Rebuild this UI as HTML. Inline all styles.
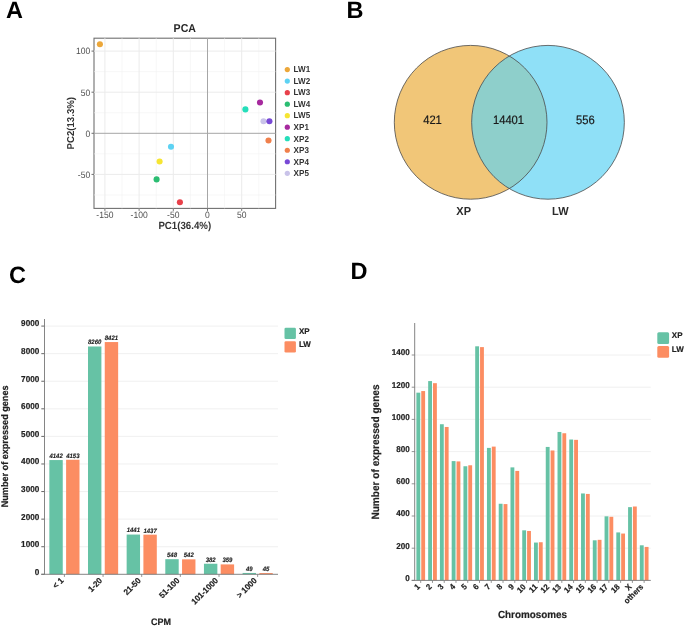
<!DOCTYPE html>
<html><head><meta charset="utf-8"><title>Figure</title><style>
html,body{margin:0;padding:0;background:#fff;}
body{width:685px;height:626px;overflow:hidden;}
.k{stroke:#222;stroke-width:0.18px;}
.ki{stroke:#222;stroke-width:0.12px;}
.kv{stroke:#1a1a1a;stroke-width:0.2px;}
svg{display:block;font-family:"Liberation Sans", sans-serif;will-change:transform;text-rendering:geometricPrecision;}
</style></head><body>
<svg width="685" height="626" viewBox="0 0 685 626">
<rect x="0" y="0" width="685" height="626" fill="#fff"/>
<text transform="translate(6.00,18.00)" font-size="23.5" fill="#000" font-weight="bold">A</text>
<text transform="translate(346.40,18.00)" font-size="23.5" fill="#000" font-weight="bold">B</text>
<text transform="translate(9.00,283.00)" font-size="23.5" fill="#000" font-weight="bold">C</text>
<text transform="translate(350.50,278.80)" font-size="23.5" fill="#000" font-weight="bold">D</text>
<rect x="94.0" y="38.2" width="181.60" height="170.20" fill="none" stroke="#707070" stroke-width="1.1"/>
<line x1="122.00" y1="38.2" x2="122.00" y2="208.4" stroke="#f2f2f2" stroke-width="0.6"/>
<line x1="156.20" y1="38.2" x2="156.20" y2="208.4" stroke="#f2f2f2" stroke-width="0.6"/>
<line x1="190.40" y1="38.2" x2="190.40" y2="208.4" stroke="#f2f2f2" stroke-width="0.6"/>
<line x1="224.60" y1="38.2" x2="224.60" y2="208.4" stroke="#f2f2f2" stroke-width="0.6"/>
<line x1="258.80" y1="38.2" x2="258.80" y2="208.4" stroke="#f2f2f2" stroke-width="0.6"/>
<line x1="94.0" y1="71.65" x2="275.6" y2="71.65" stroke="#f2f2f2" stroke-width="0.6"/>
<line x1="94.0" y1="112.75" x2="275.6" y2="112.75" stroke="#f2f2f2" stroke-width="0.6"/>
<line x1="94.0" y1="153.85" x2="275.6" y2="153.85" stroke="#f2f2f2" stroke-width="0.6"/>
<line x1="94.0" y1="194.95" x2="275.6" y2="194.95" stroke="#f2f2f2" stroke-width="0.6"/>
<line x1="104.90" y1="38.2" x2="104.90" y2="208.4" stroke="#ebebeb" stroke-width="1"/>
<line x1="139.10" y1="38.2" x2="139.10" y2="208.4" stroke="#ebebeb" stroke-width="1"/>
<line x1="173.30" y1="38.2" x2="173.30" y2="208.4" stroke="#ebebeb" stroke-width="1"/>
<line x1="241.70" y1="38.2" x2="241.70" y2="208.4" stroke="#ebebeb" stroke-width="1"/>
<line x1="94.0" y1="51.10" x2="275.6" y2="51.10" stroke="#ebebeb" stroke-width="1"/>
<line x1="94.0" y1="92.20" x2="275.6" y2="92.20" stroke="#ebebeb" stroke-width="1"/>
<line x1="94.0" y1="174.40" x2="275.6" y2="174.40" stroke="#ebebeb" stroke-width="1"/>
<line x1="207.50" y1="38.2" x2="207.50" y2="208.4" stroke="#a6a6a6" stroke-width="1"/>
<line x1="94.0" y1="133.30" x2="275.6" y2="133.30" stroke="#a6a6a6" stroke-width="1"/>
<line x1="104.90" y1="208.4" x2="104.90" y2="210.9" stroke="#707070" stroke-width="1"/>
<text transform="translate(104.90,217.90) scale(0.93,1.0)" font-size="9.2" fill="#4d4d4d" text-anchor="middle">-150</text>
<line x1="139.10" y1="208.4" x2="139.10" y2="210.9" stroke="#707070" stroke-width="1"/>
<text transform="translate(139.10,217.90) scale(0.93,1.0)" font-size="9.2" fill="#4d4d4d" text-anchor="middle">-100</text>
<line x1="173.30" y1="208.4" x2="173.30" y2="210.9" stroke="#707070" stroke-width="1"/>
<text transform="translate(173.30,217.90) scale(0.93,1.0)" font-size="9.2" fill="#4d4d4d" text-anchor="middle">-50</text>
<line x1="207.50" y1="208.4" x2="207.50" y2="210.9" stroke="#707070" stroke-width="1"/>
<text transform="translate(207.50,217.90) scale(0.93,1.0)" font-size="9.2" fill="#4d4d4d" text-anchor="middle">0</text>
<line x1="241.70" y1="208.4" x2="241.70" y2="210.9" stroke="#707070" stroke-width="1"/>
<text transform="translate(241.70,217.90) scale(0.93,1.0)" font-size="9.2" fill="#4d4d4d" text-anchor="middle">50</text>
<line x1="91.5" y1="51.10" x2="94.0" y2="51.10" stroke="#707070" stroke-width="1"/>
<text transform="translate(90.20,54.40) scale(0.93,1.0)" font-size="9.2" fill="#4d4d4d" text-anchor="end">100</text>
<line x1="91.5" y1="92.20" x2="94.0" y2="92.20" stroke="#707070" stroke-width="1"/>
<text transform="translate(90.20,95.50) scale(0.93,1.0)" font-size="9.2" fill="#4d4d4d" text-anchor="end">50</text>
<line x1="91.5" y1="133.30" x2="94.0" y2="133.30" stroke="#707070" stroke-width="1"/>
<text transform="translate(90.20,136.60) scale(0.93,1.0)" font-size="9.2" fill="#4d4d4d" text-anchor="end">0</text>
<line x1="91.5" y1="174.40" x2="94.0" y2="174.40" stroke="#707070" stroke-width="1"/>
<text transform="translate(90.20,177.70) scale(0.93,1.0)" font-size="9.2" fill="#4d4d4d" text-anchor="end">-50</text>
<text transform="translate(184.80,31.60) scale(1.0,1.08)" font-size="10.6" fill="#262626" text-anchor="middle" font-weight="bold">PCA</text>
<text transform="translate(184.80,228.60) scale(1.0,1.08)" font-size="9.7" fill="#333" text-anchor="middle" font-weight="bold">PC1(36.4%)</text>
<text transform="translate(73.70,123.20) rotate(-90) scale(1.0,1.04)" font-size="9.65" fill="#333" text-anchor="middle" font-weight="bold">PC2(13.3%)</text>
<circle cx="99.9" cy="44.3" r="3.05" fill="#eca73a"/>
<circle cx="171.0" cy="146.8" r="3.05" fill="#5dd2f3"/>
<circle cx="179.9" cy="202.2" r="3.05" fill="#e8404a"/>
<circle cx="156.6" cy="179.4" r="3.05" fill="#2bbd72"/>
<circle cx="159.6" cy="161.5" r="3.05" fill="#f6e532"/>
<circle cx="245.4" cy="109.4" r="3.05" fill="#25deba"/>
<circle cx="260.0" cy="102.5" r="3.05" fill="#a6299e"/>
<circle cx="268.5" cy="140.5" r="3.05" fill="#f0804c"/>
<circle cx="263.5" cy="121.3" r="3.05" fill="#c9c3e9"/>
<circle cx="269.4" cy="121.3" r="3.05" fill="#7849d6"/>
<circle cx="287.3" cy="69.60" r="2.6" fill="#eca73a"/>
<text transform="translate(293.60,72.40) scale(1.0,1.06)" font-size="8.1" fill="#333" font-weight="bold">LW1</text>
<circle cx="287.3" cy="81.12" r="2.6" fill="#5dd2f3"/>
<text transform="translate(293.60,83.92) scale(1.0,1.06)" font-size="8.1" fill="#333" font-weight="bold">LW2</text>
<circle cx="287.3" cy="92.64" r="2.6" fill="#e8404a"/>
<text transform="translate(293.60,95.44) scale(1.0,1.06)" font-size="8.1" fill="#333" font-weight="bold">LW3</text>
<circle cx="287.3" cy="104.16" r="2.6" fill="#2bbd72"/>
<text transform="translate(293.60,106.96) scale(1.0,1.06)" font-size="8.1" fill="#333" font-weight="bold">LW4</text>
<circle cx="287.3" cy="115.68" r="2.6" fill="#f6e532"/>
<text transform="translate(293.60,118.48) scale(1.0,1.06)" font-size="8.1" fill="#333" font-weight="bold">LW5</text>
<circle cx="287.3" cy="127.20" r="2.6" fill="#a6299e"/>
<text transform="translate(293.60,130.00) scale(1.0,1.06)" font-size="8.1" fill="#333" font-weight="bold">XP1</text>
<circle cx="287.3" cy="138.72" r="2.6" fill="#25deba"/>
<text transform="translate(293.60,141.52) scale(1.0,1.06)" font-size="8.1" fill="#333" font-weight="bold">XP2</text>
<circle cx="287.3" cy="150.24" r="2.6" fill="#f0804c"/>
<text transform="translate(293.60,153.04) scale(1.0,1.06)" font-size="8.1" fill="#333" font-weight="bold">XP3</text>
<circle cx="287.3" cy="161.76" r="2.6" fill="#7849d6"/>
<text transform="translate(293.60,164.56) scale(1.0,1.06)" font-size="8.1" fill="#333" font-weight="bold">XP4</text>
<circle cx="287.3" cy="173.28" r="2.6" fill="#c9c3e9"/>
<text transform="translate(293.60,176.08) scale(1.0,1.06)" font-size="8.1" fill="#333" font-weight="bold">XP5</text>
<ellipse cx="470.65" cy="122.3" rx="76.35" ry="76.9" fill="#f1c678"/>
<ellipse cx="548.0" cy="122.3" rx="76.35" ry="76.9" fill="#8fe0f7"/>
<clipPath id="cl"><ellipse cx="470.65" cy="122.3" rx="76.35" ry="76.9"/></clipPath>
<ellipse cx="548.0" cy="122.3" rx="76.35" ry="76.9" fill="#8ecfcb" clip-path="url(#cl)"/>
<ellipse cx="470.65" cy="122.3" rx="76.35" ry="76.9" fill="none" stroke="#4a4a4a" stroke-width="0.8"/>
<ellipse cx="548.0" cy="122.3" rx="76.35" ry="76.9" fill="none" stroke="#4a4a4a" stroke-width="0.8"/>
<text transform="translate(432.50,123.80) scale(1.0,1.09)" font-size="11.2" fill="#1a1a1a" text-anchor="middle" class="kv">421</text>
<text transform="translate(508.50,123.80) scale(1.0,1.09)" font-size="11.2" fill="#1a1a1a" text-anchor="middle" class="kv">14401</text>
<text transform="translate(585.30,123.80) scale(1.0,1.09)" font-size="11.2" fill="#1a1a1a" text-anchor="middle" class="kv">556</text>
<text transform="translate(463.70,215.00) scale(1.0,1.05)" font-size="11" fill="#2b2b2b" text-anchor="middle" font-weight="bold">XP</text>
<text transform="translate(560.30,215.00) scale(1.0,1.05)" font-size="11" fill="#2b2b2b" text-anchor="middle" font-weight="bold">LW</text>
<line x1="44.5" y1="546.72" x2="278.0" y2="546.72" stroke="#ececec" stroke-width="0.8"/>
<line x1="44.5" y1="519.14" x2="278.0" y2="519.14" stroke="#ececec" stroke-width="0.8"/>
<line x1="44.5" y1="491.56" x2="278.0" y2="491.56" stroke="#ececec" stroke-width="0.8"/>
<line x1="44.5" y1="463.98" x2="278.0" y2="463.98" stroke="#ececec" stroke-width="0.8"/>
<line x1="44.5" y1="436.40" x2="278.0" y2="436.40" stroke="#ececec" stroke-width="0.8"/>
<line x1="44.5" y1="408.82" x2="278.0" y2="408.82" stroke="#ececec" stroke-width="0.8"/>
<line x1="44.5" y1="381.24" x2="278.0" y2="381.24" stroke="#ececec" stroke-width="0.8"/>
<line x1="44.5" y1="353.66" x2="278.0" y2="353.66" stroke="#ececec" stroke-width="0.8"/>
<line x1="44.5" y1="326.08" x2="278.0" y2="326.08" stroke="#ececec" stroke-width="0.8"/>
<line x1="41.3" y1="574.30" x2="44.5" y2="574.30" stroke="#555" stroke-width="0.9"/>
<text transform="translate(39.30,574.70) scale(1.0,1.05)" font-size="8.2" fill="#222" text-anchor="end" font-weight="bold" class="k">0</text>
<line x1="41.3" y1="546.72" x2="44.5" y2="546.72" stroke="#555" stroke-width="0.9"/>
<text transform="translate(39.30,547.12) scale(1.0,1.05)" font-size="8.2" fill="#222" text-anchor="end" font-weight="bold" class="k">1000</text>
<line x1="41.3" y1="519.14" x2="44.5" y2="519.14" stroke="#555" stroke-width="0.9"/>
<text transform="translate(39.30,519.54) scale(1.0,1.05)" font-size="8.2" fill="#222" text-anchor="end" font-weight="bold" class="k">2000</text>
<line x1="41.3" y1="491.56" x2="44.5" y2="491.56" stroke="#555" stroke-width="0.9"/>
<text transform="translate(39.30,491.96) scale(1.0,1.05)" font-size="8.2" fill="#222" text-anchor="end" font-weight="bold" class="k">3000</text>
<line x1="41.3" y1="463.98" x2="44.5" y2="463.98" stroke="#555" stroke-width="0.9"/>
<text transform="translate(39.30,464.38) scale(1.0,1.05)" font-size="8.2" fill="#222" text-anchor="end" font-weight="bold" class="k">4000</text>
<line x1="41.3" y1="436.40" x2="44.5" y2="436.40" stroke="#555" stroke-width="0.9"/>
<text transform="translate(39.30,436.80) scale(1.0,1.05)" font-size="8.2" fill="#222" text-anchor="end" font-weight="bold" class="k">5000</text>
<line x1="41.3" y1="408.82" x2="44.5" y2="408.82" stroke="#555" stroke-width="0.9"/>
<text transform="translate(39.30,409.22) scale(1.0,1.05)" font-size="8.2" fill="#222" text-anchor="end" font-weight="bold" class="k">6000</text>
<line x1="41.3" y1="381.24" x2="44.5" y2="381.24" stroke="#555" stroke-width="0.9"/>
<text transform="translate(39.30,381.64) scale(1.0,1.05)" font-size="8.2" fill="#222" text-anchor="end" font-weight="bold" class="k">7000</text>
<line x1="41.3" y1="353.66" x2="44.5" y2="353.66" stroke="#555" stroke-width="0.9"/>
<text transform="translate(39.30,354.06) scale(1.0,1.05)" font-size="8.2" fill="#222" text-anchor="end" font-weight="bold" class="k">8000</text>
<line x1="41.3" y1="326.08" x2="44.5" y2="326.08" stroke="#555" stroke-width="0.9"/>
<text transform="translate(39.30,326.48) scale(1.0,1.05)" font-size="8.2" fill="#222" text-anchor="end" font-weight="bold" class="k">9000</text>
<rect x="49.35" y="460.06" width="13.4" height="114.24" fill="#66c2a5"/>
<text transform="translate(56.05,457.96) scale(1.0,1.05)" font-size="6" fill="#222" text-anchor="middle" font-weight="bold" font-style="italic" class="ki">4142</text>
<rect x="66.10" y="459.76" width="13.4" height="114.54" fill="#fc8d62"/>
<text transform="translate(72.80,457.66) scale(1.0,1.05)" font-size="6" fill="#222" text-anchor="middle" font-weight="bold" font-style="italic" class="ki">4153</text>
<line x1="64.40" y1="574.3" x2="64.40" y2="576.9" stroke="#777" stroke-width="0.8"/>
<text transform="translate(64.10,581.10) rotate(-45) scale(1.0,1.05)" font-size="8" fill="#222" text-anchor="end" font-weight="bold" class="k">&lt; 1</text>
<rect x="88.00" y="346.49" width="13.4" height="227.81" fill="#66c2a5"/>
<text transform="translate(94.70,344.39) scale(1.0,1.05)" font-size="6" fill="#222" text-anchor="middle" font-weight="bold" font-style="italic" class="ki">8260</text>
<rect x="104.75" y="342.05" width="13.4" height="232.25" fill="#fc8d62"/>
<text transform="translate(111.45,339.95) scale(1.0,1.05)" font-size="6" fill="#222" text-anchor="middle" font-weight="bold" font-style="italic" class="ki">8421</text>
<line x1="103.05" y1="574.3" x2="103.05" y2="576.9" stroke="#777" stroke-width="0.8"/>
<text transform="translate(102.75,581.10) rotate(-45) scale(1.0,1.05)" font-size="8" fill="#222" text-anchor="end" font-weight="bold" class="k">1-20</text>
<rect x="126.65" y="534.56" width="13.4" height="39.74" fill="#66c2a5"/>
<text transform="translate(133.35,532.46) scale(1.0,1.05)" font-size="6" fill="#222" text-anchor="middle" font-weight="bold" font-style="italic" class="ki">1441</text>
<rect x="143.40" y="534.67" width="13.4" height="39.63" fill="#fc8d62"/>
<text transform="translate(150.10,532.57) scale(1.0,1.05)" font-size="6" fill="#222" text-anchor="middle" font-weight="bold" font-style="italic" class="ki">1437</text>
<line x1="141.70" y1="574.3" x2="141.70" y2="576.9" stroke="#777" stroke-width="0.8"/>
<text transform="translate(141.40,581.10) rotate(-45) scale(1.0,1.05)" font-size="8" fill="#222" text-anchor="end" font-weight="bold" class="k">21-50</text>
<rect x="165.30" y="559.19" width="13.4" height="15.11" fill="#66c2a5"/>
<text transform="translate(172.00,557.09) scale(1.0,1.05)" font-size="6" fill="#222" text-anchor="middle" font-weight="bold" font-style="italic" class="ki">548</text>
<rect x="182.05" y="559.35" width="13.4" height="14.95" fill="#fc8d62"/>
<text transform="translate(188.75,557.25) scale(1.0,1.05)" font-size="6" fill="#222" text-anchor="middle" font-weight="bold" font-style="italic" class="ki">542</text>
<line x1="180.35" y1="574.3" x2="180.35" y2="576.9" stroke="#777" stroke-width="0.8"/>
<text transform="translate(180.05,581.10) rotate(-45) scale(1.0,1.05)" font-size="8" fill="#222" text-anchor="end" font-weight="bold" class="k">51-100</text>
<rect x="203.95" y="563.76" width="13.4" height="10.54" fill="#66c2a5"/>
<text transform="translate(210.65,561.66) scale(1.0,1.05)" font-size="6" fill="#222" text-anchor="middle" font-weight="bold" font-style="italic" class="ki">382</text>
<rect x="220.70" y="564.40" width="13.4" height="9.90" fill="#fc8d62"/>
<text transform="translate(227.40,562.30) scale(1.0,1.05)" font-size="6" fill="#222" text-anchor="middle" font-weight="bold" font-style="italic" class="ki">359</text>
<line x1="219.00" y1="574.3" x2="219.00" y2="576.9" stroke="#777" stroke-width="0.8"/>
<text transform="translate(218.70,581.10) rotate(-45) scale(1.0,1.05)" font-size="8" fill="#222" text-anchor="end" font-weight="bold" class="k">101-1000</text>
<rect x="242.60" y="572.95" width="13.4" height="1.35" fill="#66c2a5"/>
<text transform="translate(249.30,570.85) scale(1.0,1.05)" font-size="6" fill="#222" text-anchor="middle" font-weight="bold" font-style="italic" class="ki">49</text>
<rect x="259.35" y="573.06" width="13.4" height="1.24" fill="#fc8d62"/>
<text transform="translate(266.05,570.96) scale(1.0,1.05)" font-size="6" fill="#222" text-anchor="middle" font-weight="bold" font-style="italic" class="ki">45</text>
<line x1="257.65" y1="574.3" x2="257.65" y2="576.9" stroke="#777" stroke-width="0.8"/>
<text transform="translate(257.35,581.10) rotate(-45) scale(1.0,1.05)" font-size="8" fill="#222" text-anchor="end" font-weight="bold" class="k">&gt; 1000</text>
<line x1="44.5" y1="319.0" x2="44.5" y2="574.3" stroke="#777" stroke-width="0.9"/>
<line x1="41.3" y1="574.3" x2="278.0" y2="574.3" stroke="#777" stroke-width="0.9"/>
<text transform="translate(161.00,624.80) scale(1.0,1.05)" font-size="9" fill="#222" text-anchor="middle" font-weight="bold" class="k">CPM</text>
<text transform="translate(8.20,446.40) rotate(-90) scale(1.0,1.05)" font-size="9.1" fill="#222" text-anchor="middle" font-weight="bold" class="k">Number of expressed genes</text>
<rect x="284.5" y="327.8" width="11.4" height="11.2" rx="1.3" fill="#66c2a5"/>
<rect x="284.5" y="341.3" width="11.4" height="11.2" rx="1.3" fill="#fc8d62"/>
<text transform="translate(298.90,333.70) scale(1.0,1.05)" font-size="8" fill="#222" font-weight="bold" class="k">XP</text>
<text transform="translate(298.90,347.40) scale(1.0,1.05)" font-size="8" fill="#222" font-weight="bold" class="k">LW</text>
<line x1="414.7" y1="548.20" x2="650.8" y2="548.20" stroke="#ececec" stroke-width="0.8"/>
<line x1="414.7" y1="516.00" x2="650.8" y2="516.00" stroke="#ececec" stroke-width="0.8"/>
<line x1="414.7" y1="483.80" x2="650.8" y2="483.80" stroke="#ececec" stroke-width="0.8"/>
<line x1="414.7" y1="451.60" x2="650.8" y2="451.60" stroke="#ececec" stroke-width="0.8"/>
<line x1="414.7" y1="419.40" x2="650.8" y2="419.40" stroke="#ececec" stroke-width="0.8"/>
<line x1="414.7" y1="387.20" x2="650.8" y2="387.20" stroke="#ececec" stroke-width="0.8"/>
<line x1="414.7" y1="355.00" x2="650.8" y2="355.00" stroke="#ececec" stroke-width="0.8"/>
<line x1="411.7" y1="580.40" x2="414.7" y2="580.40" stroke="#777" stroke-width="0.8"/>
<text transform="translate(409.80,580.80) scale(1.0,1.05)" font-size="8.1" fill="#222" text-anchor="end" font-weight="bold" class="k">0</text>
<line x1="411.7" y1="548.20" x2="414.7" y2="548.20" stroke="#777" stroke-width="0.8"/>
<text transform="translate(409.80,548.60) scale(1.0,1.05)" font-size="8.1" fill="#222" text-anchor="end" font-weight="bold" class="k">200</text>
<line x1="411.7" y1="516.00" x2="414.7" y2="516.00" stroke="#777" stroke-width="0.8"/>
<text transform="translate(409.80,516.40) scale(1.0,1.05)" font-size="8.1" fill="#222" text-anchor="end" font-weight="bold" class="k">400</text>
<line x1="411.7" y1="483.80" x2="414.7" y2="483.80" stroke="#777" stroke-width="0.8"/>
<text transform="translate(409.80,484.20) scale(1.0,1.05)" font-size="8.1" fill="#222" text-anchor="end" font-weight="bold" class="k">600</text>
<line x1="411.7" y1="451.60" x2="414.7" y2="451.60" stroke="#777" stroke-width="0.8"/>
<text transform="translate(409.80,452.00) scale(1.0,1.05)" font-size="8.1" fill="#222" text-anchor="end" font-weight="bold" class="k">800</text>
<line x1="411.7" y1="419.40" x2="414.7" y2="419.40" stroke="#777" stroke-width="0.8"/>
<text transform="translate(409.80,419.80) scale(1.0,1.05)" font-size="8.1" fill="#222" text-anchor="end" font-weight="bold" class="k">1000</text>
<line x1="411.7" y1="387.20" x2="414.7" y2="387.20" stroke="#777" stroke-width="0.8"/>
<text transform="translate(409.80,387.60) scale(1.0,1.05)" font-size="8.1" fill="#222" text-anchor="end" font-weight="bold" class="k">1200</text>
<line x1="411.7" y1="355.00" x2="414.7" y2="355.00" stroke="#777" stroke-width="0.8"/>
<text transform="translate(409.80,355.40) scale(1.0,1.05)" font-size="8.1" fill="#222" text-anchor="end" font-weight="bold" class="k">1400</text>
<rect x="416.40" y="392.67" width="3.85" height="187.73" fill="#66c2a5"/>
<rect x="421.25" y="391.06" width="3.85" height="189.34" fill="#fc8d62"/>
<line x1="420.70" y1="580.4" x2="420.70" y2="582.9" stroke="#777" stroke-width="0.8"/>
<text transform="translate(420.50,587.30) rotate(-45) scale(1.0,1.05)" font-size="7.8" fill="#222" text-anchor="end" font-weight="bold" class="k">1</text>
<rect x="428.16" y="381.08" width="3.85" height="199.32" fill="#66c2a5"/>
<rect x="433.01" y="383.17" width="3.85" height="197.23" fill="#fc8d62"/>
<line x1="432.46" y1="580.4" x2="432.46" y2="582.9" stroke="#777" stroke-width="0.8"/>
<text transform="translate(432.26,587.30) rotate(-45) scale(1.0,1.05)" font-size="7.8" fill="#222" text-anchor="end" font-weight="bold" class="k">2</text>
<rect x="439.92" y="424.23" width="3.85" height="156.17" fill="#66c2a5"/>
<rect x="444.77" y="426.97" width="3.85" height="153.43" fill="#fc8d62"/>
<line x1="444.22" y1="580.4" x2="444.22" y2="582.9" stroke="#777" stroke-width="0.8"/>
<text transform="translate(444.02,587.30) rotate(-45) scale(1.0,1.05)" font-size="7.8" fill="#222" text-anchor="end" font-weight="bold" class="k">3</text>
<rect x="451.68" y="461.10" width="3.85" height="119.30" fill="#66c2a5"/>
<rect x="456.53" y="461.42" width="3.85" height="118.98" fill="#fc8d62"/>
<line x1="455.98" y1="580.4" x2="455.98" y2="582.9" stroke="#777" stroke-width="0.8"/>
<text transform="translate(455.78,587.30) rotate(-45) scale(1.0,1.05)" font-size="7.8" fill="#222" text-anchor="end" font-weight="bold" class="k">4</text>
<rect x="463.44" y="466.25" width="3.85" height="114.15" fill="#66c2a5"/>
<rect x="468.29" y="465.28" width="3.85" height="115.12" fill="#fc8d62"/>
<line x1="467.74" y1="580.4" x2="467.74" y2="582.9" stroke="#777" stroke-width="0.8"/>
<text transform="translate(467.54,587.30) rotate(-45) scale(1.0,1.05)" font-size="7.8" fill="#222" text-anchor="end" font-weight="bold" class="k">5</text>
<rect x="475.20" y="346.31" width="3.85" height="234.09" fill="#66c2a5"/>
<rect x="480.05" y="347.11" width="3.85" height="233.29" fill="#fc8d62"/>
<line x1="479.50" y1="580.4" x2="479.50" y2="582.9" stroke="#777" stroke-width="0.8"/>
<text transform="translate(479.30,587.30) rotate(-45) scale(1.0,1.05)" font-size="7.8" fill="#222" text-anchor="end" font-weight="bold" class="k">6</text>
<rect x="486.96" y="447.90" width="3.85" height="132.50" fill="#66c2a5"/>
<rect x="491.81" y="446.61" width="3.85" height="133.79" fill="#fc8d62"/>
<line x1="491.26" y1="580.4" x2="491.26" y2="582.9" stroke="#777" stroke-width="0.8"/>
<text transform="translate(491.06,587.30) rotate(-45) scale(1.0,1.05)" font-size="7.8" fill="#222" text-anchor="end" font-weight="bold" class="k">7</text>
<rect x="498.72" y="503.76" width="3.85" height="76.64" fill="#66c2a5"/>
<rect x="503.57" y="504.09" width="3.85" height="76.31" fill="#fc8d62"/>
<line x1="503.02" y1="580.4" x2="503.02" y2="582.9" stroke="#777" stroke-width="0.8"/>
<text transform="translate(502.82,587.30) rotate(-45) scale(1.0,1.05)" font-size="7.8" fill="#222" text-anchor="end" font-weight="bold" class="k">8</text>
<rect x="510.48" y="467.38" width="3.85" height="113.02" fill="#66c2a5"/>
<rect x="515.33" y="470.92" width="3.85" height="109.48" fill="#fc8d62"/>
<line x1="514.78" y1="580.4" x2="514.78" y2="582.9" stroke="#777" stroke-width="0.8"/>
<text transform="translate(514.58,587.30) rotate(-45) scale(1.0,1.05)" font-size="7.8" fill="#222" text-anchor="end" font-weight="bold" class="k">9</text>
<rect x="522.24" y="530.33" width="3.85" height="50.07" fill="#66c2a5"/>
<rect x="527.09" y="530.97" width="3.85" height="49.43" fill="#fc8d62"/>
<line x1="526.54" y1="580.4" x2="526.54" y2="582.9" stroke="#777" stroke-width="0.8"/>
<text transform="translate(526.34,587.30) rotate(-45) scale(1.0,1.05)" font-size="7.8" fill="#222" text-anchor="end" font-weight="bold" class="k">10</text>
<rect x="534.00" y="542.56" width="3.85" height="37.84" fill="#66c2a5"/>
<rect x="538.85" y="542.24" width="3.85" height="38.16" fill="#fc8d62"/>
<line x1="538.30" y1="580.4" x2="538.30" y2="582.9" stroke="#777" stroke-width="0.8"/>
<text transform="translate(538.10,587.30) rotate(-45) scale(1.0,1.05)" font-size="7.8" fill="#222" text-anchor="end" font-weight="bold" class="k">11</text>
<rect x="545.76" y="446.93" width="3.85" height="133.47" fill="#66c2a5"/>
<rect x="550.61" y="450.47" width="3.85" height="129.93" fill="#fc8d62"/>
<line x1="550.06" y1="580.4" x2="550.06" y2="582.9" stroke="#777" stroke-width="0.8"/>
<text transform="translate(549.86,587.30) rotate(-45) scale(1.0,1.05)" font-size="7.8" fill="#222" text-anchor="end" font-weight="bold" class="k">12</text>
<rect x="557.52" y="431.96" width="3.85" height="148.44" fill="#66c2a5"/>
<rect x="562.37" y="433.25" width="3.85" height="147.15" fill="#fc8d62"/>
<line x1="561.82" y1="580.4" x2="561.82" y2="582.9" stroke="#777" stroke-width="0.8"/>
<text transform="translate(561.62,587.30) rotate(-45) scale(1.0,1.05)" font-size="7.8" fill="#222" text-anchor="end" font-weight="bold" class="k">13</text>
<rect x="569.28" y="439.52" width="3.85" height="140.88" fill="#66c2a5"/>
<rect x="574.13" y="439.85" width="3.85" height="140.55" fill="#fc8d62"/>
<line x1="573.58" y1="580.4" x2="573.58" y2="582.9" stroke="#777" stroke-width="0.8"/>
<text transform="translate(573.38,587.30) rotate(-45) scale(1.0,1.05)" font-size="7.8" fill="#222" text-anchor="end" font-weight="bold" class="k">14</text>
<rect x="581.04" y="493.46" width="3.85" height="86.94" fill="#66c2a5"/>
<rect x="585.89" y="493.94" width="3.85" height="86.46" fill="#fc8d62"/>
<line x1="585.34" y1="580.4" x2="585.34" y2="582.9" stroke="#777" stroke-width="0.8"/>
<text transform="translate(585.14,587.30) rotate(-45) scale(1.0,1.05)" font-size="7.8" fill="#222" text-anchor="end" font-weight="bold" class="k">15</text>
<rect x="592.80" y="540.31" width="3.85" height="40.09" fill="#66c2a5"/>
<rect x="597.65" y="539.83" width="3.85" height="40.57" fill="#fc8d62"/>
<line x1="597.10" y1="580.4" x2="597.10" y2="582.9" stroke="#777" stroke-width="0.8"/>
<text transform="translate(596.90,587.30) rotate(-45) scale(1.0,1.05)" font-size="7.8" fill="#222" text-anchor="end" font-weight="bold" class="k">16</text>
<rect x="604.56" y="516.32" width="3.85" height="64.08" fill="#66c2a5"/>
<rect x="609.41" y="516.80" width="3.85" height="63.60" fill="#fc8d62"/>
<line x1="608.86" y1="580.4" x2="608.86" y2="582.9" stroke="#777" stroke-width="0.8"/>
<text transform="translate(608.66,587.30) rotate(-45) scale(1.0,1.05)" font-size="7.8" fill="#222" text-anchor="end" font-weight="bold" class="k">17</text>
<rect x="616.32" y="532.42" width="3.85" height="47.98" fill="#66c2a5"/>
<rect x="621.17" y="533.55" width="3.85" height="46.85" fill="#fc8d62"/>
<line x1="620.62" y1="580.4" x2="620.62" y2="582.9" stroke="#777" stroke-width="0.8"/>
<text transform="translate(620.42,587.30) rotate(-45) scale(1.0,1.05)" font-size="7.8" fill="#222" text-anchor="end" font-weight="bold" class="k">18</text>
<rect x="628.08" y="507.14" width="3.85" height="73.25" fill="#66c2a5"/>
<rect x="632.93" y="506.50" width="3.85" height="73.90" fill="#fc8d62"/>
<line x1="632.38" y1="580.4" x2="632.38" y2="582.9" stroke="#777" stroke-width="0.8"/>
<text transform="translate(632.18,587.30) rotate(-45) scale(1.0,1.05)" font-size="7.8" fill="#222" text-anchor="end" font-weight="bold" class="k">X</text>
<rect x="639.84" y="545.30" width="3.85" height="35.10" fill="#66c2a5"/>
<rect x="644.69" y="546.91" width="3.85" height="33.49" fill="#fc8d62"/>
<line x1="644.14" y1="580.4" x2="644.14" y2="582.9" stroke="#777" stroke-width="0.8"/>
<text transform="translate(643.94,587.30) rotate(-45) scale(1.0,1.05)" font-size="7.8" fill="#222" text-anchor="end" font-weight="bold" class="k">others</text>
<line x1="414.7" y1="323.0" x2="414.7" y2="580.4" stroke="#777" stroke-width="0.9"/>
<line x1="411.7" y1="580.4" x2="650.8" y2="580.4" stroke="#777" stroke-width="0.9"/>
<text transform="translate(532.50,617.60) scale(1.0,1.05)" font-size="9.9" fill="#222" text-anchor="middle" font-weight="bold" class="k">Chromosomes</text>
<text transform="translate(379.20,452.00) rotate(-90) scale(1.0,1.05)" font-size="10.1" fill="#222" text-anchor="middle" font-weight="bold" class="k">Number of expressed genes</text>
<rect x="657.3" y="332.2" width="11.8" height="11.7" rx="1.5" fill="#66c2a5"/>
<rect x="657.3" y="345.9" width="11.8" height="11.8" rx="1.5" fill="#fc8d62"/>
<text transform="translate(671.80,338.20) scale(1.0,1.05)" font-size="8" fill="#222" font-weight="bold" class="k">XP</text>
<text transform="translate(671.80,351.80) scale(1.0,1.05)" font-size="8" fill="#222" font-weight="bold" class="k">LW</text>
</svg></body></html>
